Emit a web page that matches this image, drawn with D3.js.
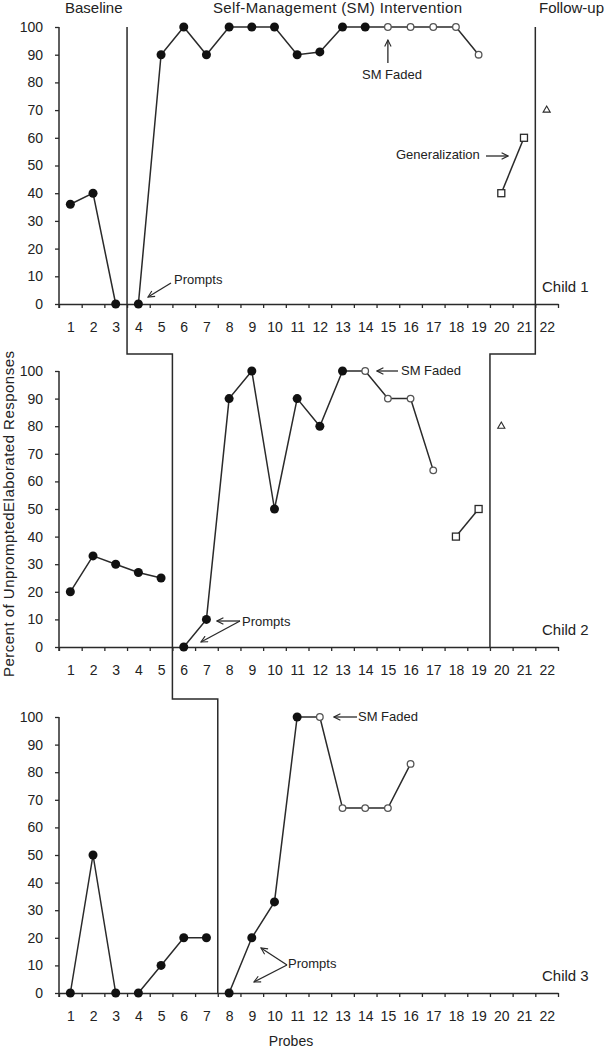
<!DOCTYPE html>
<html>
<head>
<meta charset="utf-8">
<script src="https://cdn.jsdelivr.net/npm/d3@7"></script>
<style>
  body { margin: 0; background: #fff; }
  svg { display: block; font-family: "Liberation Sans", Arial, sans-serif; }
  text { fill: #222; }
</style>
</head>
<body>
<svg class="chart"></svg>
<script>
// multiple-baseline chart, 3 children, probes 1-22
const width = 608
const height = 1050

const probes = [1,2,3,4,5,6,7,8,9,10,11,12,13,14,15,16,17,18,19,20,21,22]
const yTicks = [0,10,20,30,40,50,60,70,80,90,100]

// [probe, percent]
const c1Baseline = [[1,36],[2,40],[3,0]]
const c1SM       = [[4,0],[5,90],[6,100],[7,90],[8,100],[9,100],[10,100],[11,90],[12,91],[13,100],[14,100]]
const c1Faded    = [[15,100],[16,100],[17,100],[18,100],[19,90]]
const c1Gen      = [[20,40],[21,60]]
const c1Follow   = [[22,70]]

const c2Baseline = [[1,20],[2,33],[3,30],[4,27],[5,25]]
const c2SM       = [[6,0],[7,10],[8,90],[9,100],[10,50],[11,90],[12,80],[13,100]]
const c2Faded    = [[14,100],[15,90],[16,90],[17,64]]
const c2Gen      = [[18,40],[19,50]]
const c2Follow   = [[20,80]]

const c3BaselineA = [[1,0],[2,50],[3,0]]
const c3BaselineB = [[4,0],[5,10],[6,20],[7,20]]
const c3SM        = [[8,0],[9,20],[10,33],[11,100]]
const c3Faded     = [[12,100],[13,67],[14,67],[15,67],[16,83]]

const svg = d3.select('svg.chart')
  .attr('width', width)
  .attr('height', height)

const ink = '#2a2a2a'

// arrow head
svg.append('defs').append('marker')
  .attr('id', 'head')
  .attr('viewBox', '0 0 10 10')
  .attr('refX', 9).attr('refY', 5)
  .attr('markerWidth', 8).attr('markerHeight', 8)
  .attr('markerUnits', 'userSpaceOnUse')
  .attr('orient', 'auto')
  .append('path')
    .attr('d', 'M1,1 L9,5 L1,9')
    .attr('fill', 'none')
    .attr('stroke', ink)
    .attr('stroke-width', 1.4)

// shared x scale (probe centres)
const x = d3.scaleLinear().domain([0.5, 22.5]).range([59, 558])

const panels = [
  { top: 27,  bottom: 304, child: 'Child 1',
    lines: [c1Baseline, c1SM.concat(c1Faded), c1Gen],
    filled: c1Baseline.concat(c1SM), open: c1Faded, squares: c1Gen, tris: c1Follow },
  { top: 371, bottom: 647, child: 'Child 2',
    lines: [c2Baseline, c2SM.concat(c2Faded), c2Gen],
    filled: c2Baseline.concat(c2SM), open: c2Faded, squares: c2Gen, tris: c2Follow },
  { top: 717, bottom: 993, child: 'Child 3',
    lines: [c3BaselineA, c3BaselineB, c3SM.concat(c3Faded)],
    filled: c3BaselineA.concat(c3BaselineB, c3SM), open: c3Faded, squares: [], tris: [] }
]

panels.forEach(p => {
  p.y = d3.scaleLinear().domain([0, 100]).range([p.bottom, p.top])
  const g = svg.append('g')

  // y axis
  const yAxis = g.append('g')
    .attr('transform', `translate(${x.range()[0]},0)`)
    .call(d3.axisLeft(p.y).tickValues(yTicks).tickSize(4).tickPadding(12).tickSizeOuter(0))
  yAxis.select('.domain').attr('stroke', ink).attr('stroke-width', 1.5)
    .attr('d', `M0,${p.top}V${p.bottom + 4}`)
  yAxis.selectAll('.tick line').attr('stroke', ink).attr('stroke-width', 1.3)
  yAxis.selectAll('text').attr('font-size', 14).attr('fill', '#222')

  // x axis: ticks on band boundaries, labels on centres
  const xTicks = g.append('g')
    .attr('transform', `translate(0,${p.bottom})`)
    .call(d3.axisBottom(x).tickValues(d3.range(0.5, 23, 1)).tickSize(4).tickFormat('').tickSizeOuter(0))
  xTicks.select('.domain').attr('stroke', ink).attr('stroke-width', 1.5)
  xTicks.selectAll('.tick line').attr('stroke', ink).attr('stroke-width', 1.3)

  const xLabels = g.append('g')
    .attr('transform', `translate(0,${p.bottom})`)
    .call(d3.axisBottom(x).tickValues(probes).tickSize(0).tickPadding(18))
  xLabels.select('.domain').remove()
  xLabels.selectAll('text').attr('font-size', 14).attr('fill', '#222')

  // data lines
  const line = d3.line().x(d => x(d[0])).y(d => p.y(d[1]))
  g.selectAll('path.series')
    .data(p.lines)
    .join('path')
      .attr('class', 'series')
      .attr('d', line)
      .attr('fill', 'none')
      .attr('stroke', ink)
      .attr('stroke-width', 1.5)

  g.selectAll('circle.filled')
    .data(p.filled)
    .join('circle')
      .attr('class', 'filled')
      .attr('cx', d => x(d[0]))
      .attr('cy', d => p.y(d[1]))
      .attr('r', 4.5)
      .attr('fill', '#111')

  g.selectAll('circle.open')
    .data(p.open)
    .join('circle')
      .attr('class', 'open')
      .attr('cx', d => x(d[0]))
      .attr('cy', d => p.y(d[1]))
      .attr('r', 3.3)
      .attr('fill', '#fff')
      .attr('stroke', '#555')
      .attr('stroke-width', 1.3)

  g.selectAll('rect.sq')
    .data(p.squares)
    .join('rect')
      .attr('class', 'sq')
      .attr('x', d => x(d[0]) - 3.5)
      .attr('y', d => p.y(d[1]) - 3.5)
      .attr('width', 7).attr('height', 7)
      .attr('fill', '#fff')
      .attr('stroke', ink)
      .attr('stroke-width', 1.3)

  g.selectAll('path.tri')
    .data(p.tris)
    .join('path')
      .attr('class', 'tri')
      .attr('transform', d => `translate(${x(d[0])},${p.y(d[1])})`)
      .attr('d', d3.symbol(d3.symbolTriangle, 22))
      .attr('fill', '#fff')
      .attr('stroke', ink)
      .attr('stroke-width', 1.1)

  g.append('text')
    .attr('x', 542).attr('y', p.bottom - 12)
    .attr('font-size', 15)
    .text(p.child)
})

const [p1, p2, p3] = panels

// phase change lines
const gap1 = 354, gap2 = 699
const phase = d3.line()
svg.append('path')
  .attr('d', phase([
    [x(3.5), p1.top], [x(3.5), gap1], [x(5.5), gap1],
    [x(5.5), gap2], [x(7.5), gap2], [x(7.5), p3.bottom]
  ]))
  .attr('fill', 'none').attr('stroke', ink).attr('stroke-width', 1.5)

svg.append('path')
  .attr('d', phase([
    [x(21.5), p1.top], [x(21.5), gap1], [x(19.5), gap1], [x(19.5), p2.bottom]
  ]))
  .attr('fill', 'none').attr('stroke', ink).attr('stroke-width', 1.5)

// phase titles
svg.append('text').attr('x', 65).attr('y', 13).attr('font-size', 15).text('Baseline')
svg.append('text').attr('x', 213).attr('y', 13).attr('font-size', 15).attr('textLength', 249)
  .text('Self-Management (SM) Intervention')
svg.append('text').attr('x', 539).attr('y', 13).attr('font-size', 15).text('Follow-up')

// axis titles
svg.append('text')
  .attr('transform', 'translate(14,514) rotate(-90)')
  .attr('text-anchor', 'middle')
  .attr('font-size', 15)
  .attr('textLength', 326)
  .text('Percent of UnpromptedElaborated Responses')

svg.append('text')
  .attr('x', 291).attr('y', 1046)
  .attr('text-anchor', 'middle')
  .attr('font-size', 14)
  .text('Probes')

// annotations
function arrow(x1, y1, x2, y2) {
  svg.append('line')
    .attr('x1', x1).attr('y1', y1).attr('x2', x2).attr('y2', y2)
    .attr('stroke', ink).attr('stroke-width', 1.3)
    .attr('marker-end', 'url(#head)')
}
function note(tx, ty, s) {
  svg.append('text').attr('x', tx).attr('y', ty).attr('font-size', 13).text(s)
}

// child 1
note(174, 284, 'Prompts')
arrow(171, 283, 148, 297)
arrow(x(15), 63, x(15), 40)
svg.append('text').attr('x', 392).attr('y', 79).attr('font-size', 13)
  .attr('text-anchor', 'middle').text('SM Faded')
note(396, 159, 'Generalization')
arrow(486, 156, 508, 156)

// child 2
arrow(398, p2.y(100), 377, p2.y(100))
note(401, 375, 'SM Faded')
note(242, 626, 'Prompts')
arrow(240, 621, 217, 621)
arrow(240, 621, 201, 642)

// child 3
arrow(357, p3.y(100), 334, p3.y(100))
note(358, 721, 'SM Faded')
note(288, 968, 'Prompts')
arrow(287, 965, 261, 948)
arrow(287, 965, 254, 982)
</script>
</body>
</html>
